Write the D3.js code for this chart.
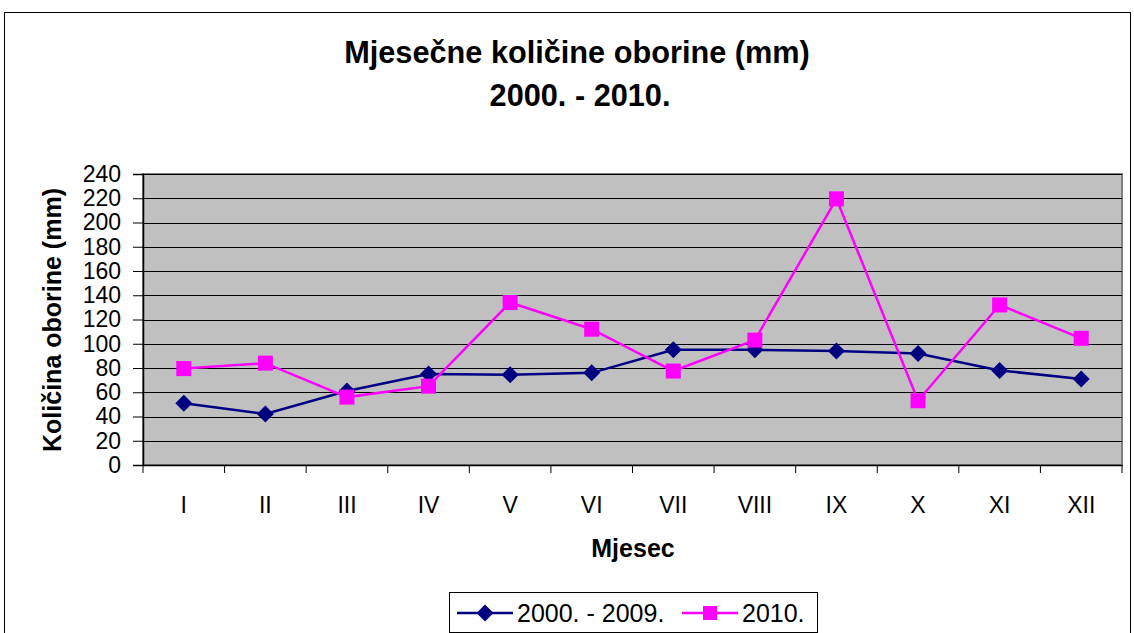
<!DOCTYPE html>
<html>
<head>
<meta charset="utf-8">
<script src="https://cdn.jsdelivr.net/npm/d3@7"></script>
<style>
  body { margin: 0; background: #fff; }
  svg { font-family: "Liberation Sans", Arial, sans-serif; }
</style>
</head>
<body>
<div class="container"></div>
<script>
var months = ['I','II','III','IV','V','VI','VII','VIII','IX','X','XI','XII'];
var avg2000_2009 = [51, 42, 61, 75, 74.5, 76, 95, 95, 94, 92, 78, 71];
var year2010 = [79.5, 84, 56, 65, 134, 112, 77.5, 103, 219.5, 53, 132, 104.5];
var yTicks = [0,20,40,60,80,100,120,140,160,180,200,220,240];
var seriesNames = ['2000. - 2009.', '2010.'];

var width = 1134, height = 633;
var plot = {left: 143, top: 174, right: 1122, bottom: 465};
var font = '"Liberation Sans", Arial, sans-serif';

var svg = d3.select('.container')
    .append('svg')
    .attr('width', width)
    .attr('height', height);

// outer frame
svg.append('rect')
    .attr('x', 4.5).attr('y', 12.5)
    .attr('width', 1126).attr('height', 640)
    .attr('fill', 'white')
    .attr('stroke', 'black')
    .attr('stroke-width', 1);

var x = d3.scaleBand().domain(months).range([plot.left, plot.right]);
var y = d3.scaleLinear().domain([0, 240]).range([plot.bottom, plot.top]);

// plot background
svg.append('rect')
    .attr('x', plot.left).attr('y', plot.top)
    .attr('width', plot.right - plot.left).attr('height', plot.bottom - plot.top)
    .attr('fill', '#c0c0c0')
    .attr('stroke', '#808080')
    .attr('stroke-width', 2);

// grid lines
svg.selectAll('line.grid')
    .data(yTicks.slice(1))
    .enter()
    .append('line')
    .attr('x1', plot.left).attr('x2', plot.right)
    .attr('y1', function(d){ return Math.round(y(d)) + 0.5; })
    .attr('y2', function(d){ return Math.round(y(d)) + 0.5; })
    .attr('stroke', '#000')
    .attr('stroke-width', 1);

// y axis
var yAxis = svg.append('g')
    .attr('transform', 'translate(' + plot.left + ',0)')
    .call(d3.axisLeft(y).tickValues(yTicks).tickSize(10).tickPadding(12));
yAxis.attr('font-size', 23).attr('font-family', font);
yAxis.select('.domain').attr('stroke', '#000').attr('stroke-width', 1.5);
yAxis.selectAll('.tick line').attr('stroke', '#000');
yAxis.selectAll('text').attr('fill', '#000');

// x axis
var xAxis = svg.append('g')
    .attr('transform', 'translate(0,' + plot.bottom + ')')
    .call(d3.axisBottom(x).tickSize(0).tickPadding(32));
xAxis.attr('font-size', 23).attr('font-family', font);
xAxis.select('.domain').attr('stroke', '#000').attr('stroke-width', 1.5);
xAxis.selectAll('text').attr('fill', '#000');
// category boundary ticks
xAxis.selectAll('line.bound')
    .data(months.concat(['end']))
    .enter()
    .append('line')
    .attr('x1', function(d, i){ return plot.left + i * x.step(); })
    .attr('x2', function(d, i){ return plot.left + i * x.step(); })
    .attr('y1', 0).attr('y2', 8)
    .attr('stroke', '#000');

// lines and markers
var line = d3.line()
    .x(function(d, i){ return x(months[i]) + x.bandwidth() / 2; })
    .y(function(d){ return y(d); });

svg.append('path')
    .datum(avg2000_2009)
    .attr('d', line)
    .attr('fill', 'none')
    .attr('stroke', '#000080')
    .attr('stroke-width', 2.5);

svg.append('path')
    .datum(year2010)
    .attr('d', line)
    .attr('fill', 'none')
    .attr('stroke', '#ff00ff')
    .attr('stroke-width', 2.5);

var diamond = 'M0,-8.5L8.5,0L0,8.5L-8.5,0Z';

svg.selectAll('path.dia')
    .data(avg2000_2009)
    .enter()
    .append('path')
    .attr('d', diamond)
    .attr('transform', function(d, i){ return 'translate(' + (x(months[i]) + x.bandwidth() / 2) + ',' + y(d) + ')'; })
    .attr('fill', '#000080');

svg.selectAll('rect.sq')
    .data(year2010)
    .enter()
    .append('rect')
    .attr('x', function(d, i){ return x(months[i]) + x.bandwidth() / 2 - 7.5; })
    .attr('y', function(d){ return y(d) - 7.5; })
    .attr('width', 15).attr('height', 15)
    .attr('fill', '#ff00ff');

// titles
svg.append('text')
    .attr('x', 577).attr('y', 63)
    .attr('text-anchor', 'middle')
    .attr('font-size', 30.7).attr('font-weight', 'bold')
    .text('Mjesečne količine oborine (mm)');
svg.append('text')
    .attr('x', 580).attr('y', 106)
    .attr('text-anchor', 'middle')
    .attr('font-size', 30.7).attr('font-weight', 'bold')
    .text('2000. - 2010.');

svg.append('text')
    .attr('x', 633).attr('y', 557)
    .attr('text-anchor', 'middle')
    .attr('font-size', 25).attr('font-weight', 'bold')
    .text('Mjesec');

svg.append('text')
    .attr('transform', 'translate(61,320) rotate(-90)')
    .attr('text-anchor', 'middle')
    .attr('font-size', 25).attr('font-weight', 'bold')
    .text('Količina oborine (mm)');

// legend
var legend = svg.append('g');
legend.append('rect')
    .attr('x', 449.5).attr('y', 592.5)
    .attr('width', 368).attr('height', 40)
    .attr('fill', 'white')
    .attr('stroke', '#000');

var legendItems = [
    {name: seriesNames[0], color: '#000080', x0: 457, shape: 'dia'},
    {name: seriesNames[1], color: '#ff00ff', x0: 682, shape: 'sq'}
];
legendItems.forEach(function(it){
    legend.append('line')
        .attr('x1', it.x0).attr('x2', it.x0 + 56)
        .attr('y1', 613).attr('y2', 613)
        .attr('stroke', it.color).attr('stroke-width', 2.5);
    if (it.shape === 'dia') {
        legend.append('path').attr('d', diamond)
            .attr('transform', 'translate(' + (it.x0 + 28) + ',613)')
            .attr('fill', it.color);
    } else {
        legend.append('rect')
            .attr('x', it.x0 + 21).attr('y', 606)
            .attr('width', 14).attr('height', 14)
            .attr('fill', it.color);
    }
    legend.append('text')
        .attr('x', it.x0 + 60).attr('y', 622)
        .attr('font-size', 25)
        .text(it.name);
});
</script>
</body>
</html>
